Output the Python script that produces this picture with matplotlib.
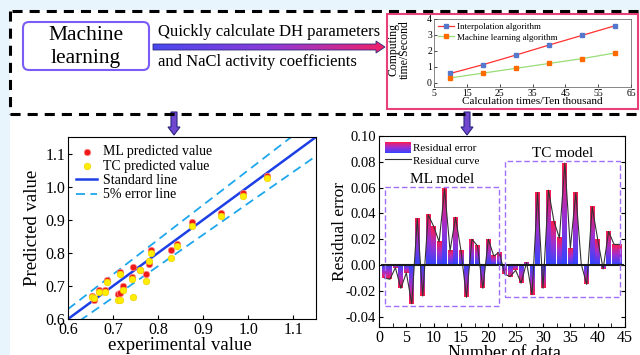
import numpy as np
import matplotlib.pyplot as plt
from matplotlib.colors import LinearSegmentedColormap
from matplotlib.patches import Rectangle, FancyBboxPatch, Polygon
from matplotlib.lines import Line2D
from matplotlib.legend_handler import HandlerBase

plt.rcParams['font.family'] = 'serif'
plt.rcParams['font.serif'] = ['Liberation Serif', 'DejaVu Serif']
plt.rcParams['axes.unicode_minus'] = False

# inset: computing time vs calculation times
calc_times = [10, 20, 30, 40, 50, 60]
interp_time = [0.60, 1.15, 1.75, 2.37, 2.97, 3.57]
ml_time = [0.32, 0.62, 0.92, 1.22, 1.52, 1.87]

# predicted vs experimental
exp_val = [0.654, 0.657, 0.668, 0.681, 0.687, 0.710, 0.715, 0.715, 0.722, 0.741, 0.744,
           0.759, 0.773, 0.779, 0.785, 0.829, 0.841, 0.876, 0.939, 0.987, 1.041]
ml_pred = [0.668, 0.658, 0.687, 0.688, 0.718, 0.676, 0.679, 0.741, 0.700, 0.726, 0.756,
           0.748, 0.736, 0.767, 0.810, 0.808, 0.826, 0.894, 0.919, 0.981, 1.032]
tc_pred = [0.665, 0.662, 0.683, 0.682, 0.711, 0.658, 0.658, 0.735, 0.688, 0.722, 0.666,
           0.748, 0.716, 0.776, 0.799, 0.784, 0.822, 0.880, 0.911, 0.971, 1.025]

# residuals
ml_resid = [-0.010, -0.011, -0.002, -0.018, -0.006, -0.030, 0.036, -0.024, 0.039, 0.030, 0.018,
            0.059, 0.011, 0.037, 0.011, -0.025, 0.020, 0.015, -0.018, 0.020, 0.007, 0.010]
tc_resid = [-0.007, -0.009, -0.004, -0.014, 0.002, -0.023, 0.056, -0.018, 0.058, 0.034, 0.021,
            0.079, 0.013, 0.056, 0.0005, -0.015, 0.045, 0.020, -0.003, 0.026, 0.016, 0.016]

W, H = 640, 355


def box(l, t, r, b):
    return [l / W, 1 - b / H, (r - l) / W, (b - t) / H]


bar_cmap = LinearSegmentedColormap.from_list('bar', ['#3344ff', '#a030d0', '#ff1a4d'])
arrow_cmap = LinearSegmentedColormap.from_list('arr', ['#4a48f0', '#8c3ad8', '#f0206a'])


class GradientHandler(HandlerBase):
    def create_artists(self, legend, orig_handle, xdescent, ydescent, width, height, fontsize, trans):
        n = 24
        arts = []
        for k in range(n):
            y0 = -ydescent + height * (1 - (k + 1) / n)
            r = Rectangle((-xdescent, y0), width, height / n * 1.05,
                          facecolor=bar_cmap(1 - k / (n - 1)), lw=0, transform=trans)
            arts.append(r)
        return arts


fig = plt.figure(figsize=(6.4, 3.55), dpi=100, facecolor='#e9f5fc')

# ---- layout / diagram layer (pixel coordinates)
bg = fig.add_axes([0, 0, 1, 1])
bg.axis('off')
bg.add_patch(Rectangle((10, 10), 640, 355, facecolor='white', lw=0))
dash = (0, (3.3, 2.3))
bg.plot([12, 640], [11, 11], color='black', lw=2.2, linestyle=dash)
bg.plot([10, 10], [11, 114], color='black', lw=2.2, linestyle=dash)
bg.plot([10, 640], [114, 114], color='black', lw=2.2, linestyle=dash)

bg.add_patch(FancyBboxPatch((23, 22), 126, 48, boxstyle='round,pad=0,rounding_size=6',
                            facecolor='white', edgecolor='#7b5cf5', lw=1.5))
bg.text(86, 35, 'Machine', fontsize=15.5, ha='center', va='center')
bg.text(86, 59, 'learning', fontsize=15.5, ha='center', va='center')

pts = [(153, 44), (376, 44), (376, 41), (385, 47), (376, 53), (376, 50), (153, 50)]
arrow = Polygon(pts, closed=True, facecolor='none', edgecolor='#2b2b7a', lw=0.6, zorder=3)
bg.add_patch(arrow)
im = bg.imshow(np.linspace(0, 1, 100).reshape(1, -1), extent=(153, 385, 53, 41),
               cmap=arrow_cmap, aspect='auto', zorder=2)
im.set_clip_path(arrow)
bg.text(158, 32, 'Quickly calculate DH parameters', fontsize=12, ha='left', va='center')
bg.text(158, 62, 'and NaCl activity coefficients', fontsize=12, ha='left', va='center')

bg.add_patch(Rectangle((387, 14), 251, 95, facecolor='white', edgecolor='#e8407a', lw=1.5))

for cx in (174, 467):
    bg.add_patch(Polygon([(cx - 3, 112), (cx + 3, 112), (cx + 3, 127), (cx + 6, 127),
                          (cx, 135), (cx - 6, 127), (cx - 3, 127)], closed=True,
                         facecolor='#7048d0', edgecolor='#2c2480', lw=0.8))

bg.text(399, 50, 'Computing\ntime/Second', fontsize=8.5, rotation=90,
        ha='center', va='center', linespacing=0.95)
bg.text(532, 102, 'Calculation times/Ten thousand', fontsize=8, ha='center', va='center')
bg.set_xlim(0, W)
bg.set_ylim(H, 0)

# ---- inset chart
ax_in = fig.add_axes(box(434, 19, 631, 87))
ax_in.plot(calc_times, interp_time, color='#ff3030', lw=0.9, marker='s', ms=2.2,
           mfc='#5577cc', mec='#5577cc', label='Interpolation algorithm')
ax_in.plot(calc_times, ml_time, color='#99dd77', lw=0.9, marker='s', ms=2.2,
           mfc='#ff6a00', mec='#ff6a00', label='Machine learning algorithm')
ax_in.set_xlim(5, 65)
ax_in.set_ylim(-0.25, 4)
ax_in.set_xticks(range(5, 66, 10))
ax_in.set_yticks(range(0, 5))
ax_in.tick_params(labelsize=7, direction='in', length=2, pad=1.5, width=0.5)
for s in ax_in.spines.values():
    s.set_linewidth(0.5)
    s.set_color('#555555')
ax_in.legend(loc='upper left', fontsize=6.5, frameon=False, handlelength=1.8,
             handletextpad=0.3, labelspacing=0.25, borderaxespad=0.2, borderpad=0.2)

# ---- predicted vs experimental
ax1 = fig.add_axes(box(68, 137, 316, 319))
xs = np.array([0.6, 1.15])
ax1.scatter(exp_val, ml_pred, s=22, color='#f01818', edgecolor='#ff8a8a', lw=0.5,
            zorder=3, label='ML predicted value')
ax1.scatter(exp_val, tc_pred, s=22, color='#ffee00', edgecolor='#f0d000', lw=0.5,
            zorder=3, label='TC predicted value')
ax1.plot(xs, xs, color='#1c3fe6', lw=1.8, label='Standard line')
ax1.plot(xs, xs * 1.05, color='#1ea7ec', lw=1.3, ls=(0, (5, 3)), label='5% error line')
ax1.plot(xs, xs * 0.95, color='#1ea7ec', lw=1.3, ls=(0, (5, 3)))
ax1.set_xlim(0.6, 1.15)
ax1.set_ylim(0.6, 1.15)
ax1.set_xticks(np.arange(0.6, 1.15, 0.1))
ax1.set_yticks(np.arange(0.6, 1.15, 0.1))
ax1.xaxis.set_major_formatter('{x:.1f}')
ax1.yaxis.set_major_formatter('{x:.1f}')
ax1.tick_params(labelsize=11.5, direction='in', length=3, pad=2)
ax1.set_xlabel('experimental value', fontsize=13.5)
ax1.set_ylabel('Predicted value', fontsize=13.5)
ax1.xaxis.set_label_coords(0.45, -0.098)
ax1.yaxis.set_label_coords(-0.11, 0.5)
ax1.legend(loc='upper left', fontsize=10, frameon=False, handlelength=1.5,
           handletextpad=0.4, labelspacing=0.1, borderaxespad=0.3, borderpad=0.3)

# ---- residuals
ax2 = fig.add_axes(box(379, 136, 625, 327))
resid = ml_resid + tc_resid
idx = np.arange(1, len(resid) + 1)
grad = np.linspace(0, 1, 60).reshape(-1, 1)
for i, v in zip(idx, resid):
    ax2.imshow(grad, extent=(i - 0.45, i + 0.45, 0, v), origin='lower', cmap=bar_cmap,
               aspect='auto', interpolation='bilinear', zorder=2)
ax2.plot(idx, resid, color='#333333', lw=0.8, zorder=3)
ax2.axhline(0, xmin=0.6 / 45, xmax=44.6 / 45, color='#1a1a1a', lw=1.5, zorder=4)

groups = [('ML model', idx[:len(ml_resid)], ml_resid), ('TC model', idx[len(ml_resid):], tc_resid)]
for name, gi, gv in groups:
    x0, x1 = gi[0] + 0.1, gi[-1]
    y0, y1 = min(gv) - 0.0015, max(gv) + 0.0015
    ax2.add_patch(Rectangle((x0, y0), x1 - x0, y1 - y0, facecolor='none',
                            edgecolor='#a070ff', lw=1, ls=(0, (4, 2)), zorder=5))
    ax2.text((x0 + x1) / 2, y1 + 0.0008, name, fontsize=11, ha='center', va='bottom')

ax2.set_xlim(0, 45)
ax2.set_ylim(-0.048, 0.10)
ax2.set_xticks(range(0, 46, 5))
ax2.set_xticks(np.arange(2.5, 45, 5), minor=True)
ax2.set_yticks(np.arange(-0.04, 0.101, 0.02))
ax2.yaxis.set_major_formatter('{x:.2f}')
ax2.tick_params(axis='y', labelsize=10.5, direction='in', length=3, pad=2, right=True)
ax2.tick_params(axis='x', which='both', labelsize=11.5, direction='in', length=3, pad=2)
ax2.set_xlabel('Number of data', fontsize=13)
ax2.set_ylabel('Residual error', fontsize=12.5)
ax2.xaxis.set_label_coords(0.51, -0.095)
ax2.yaxis.set_label_coords(-0.125, 0.5)

grad_proxy = Rectangle((0, 0), 1, 1)
curve_proxy = Line2D([], [], color='#333333', lw=0.8)
ax2.legend([grad_proxy, curve_proxy], ['Residual error', 'Residual curve'],
           handler_map={grad_proxy: GradientHandler()}, loc='upper left', fontsize=8,
           frameon=False, handlelength=2.4, handleheight=1.25, handletextpad=0.2,
           labelspacing=0.1, borderaxespad=0.3, borderpad=0.2)

fig.savefig('out.png', dpi=100, facecolor=fig.get_facecolor())
